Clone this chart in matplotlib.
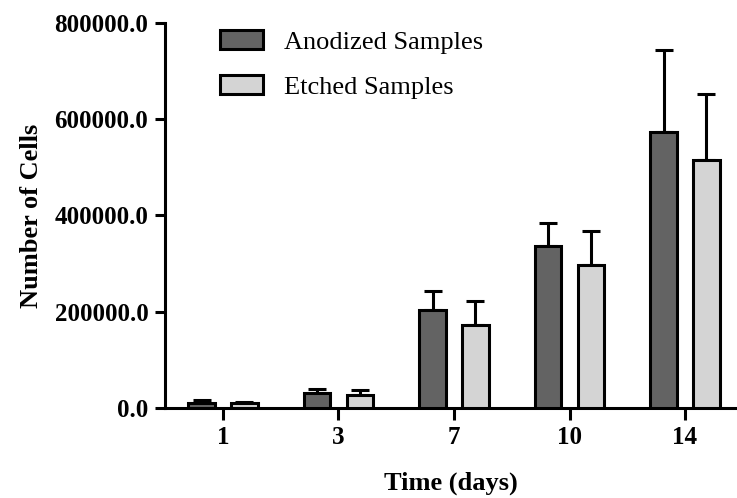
import numpy as np
import matplotlib
matplotlib.use('Agg')
import matplotlib.pyplot as plt

# Cell counts
days = ['1', '3', '7', '10', '14']
anodized = [11000, 31000, 203000, 336000, 573000]
anodized_err = [5000, 8000, 40000, 49000, 171000]
etched = [10000, 28000, 173000, 297000, 515000]
etched_err = [1500, 8500, 49000, 71000, 137000]

plt.rcParams['font.family'] = ['Liberation Serif', 'DejaVu Serif']

fig = plt.figure(figsize=(7.37, 4.98), dpi=100)
ax = fig.add_axes([165/737, 90/498, 572/737, 385/498])

x = np.arange(len(days))
w = 0.23
off = 0.185
err_kw = dict(ecolor='black', elinewidth=2.2, capsize=6.5, capthick=2.2)

ax.bar(x - off, anodized, w, color='#636363', edgecolor='black', linewidth=2.2,
       label='Anodized Samples', zorder=3)
ax.errorbar(x - off, anodized, yerr=[np.zeros(len(days)), anodized_err],
            fmt='none', zorder=2, **err_kw)
ax.bar(x + off, etched, w, color='#d4d4d4', edgecolor='black', linewidth=2.2,
       label='Etched Samples', zorder=3)
ax.errorbar(x + off, etched, yerr=[np.zeros(len(days)), etched_err],
            fmt='none', zorder=2, **err_kw)

ax.set_xlim(-0.502, 4.45)
ax.set_ylim(0, 800000)
ax.set_xticks(x)
ax.set_xticklabels(days)
ax.set_yticks([0, 200000, 400000, 600000, 800000])
ax.set_yticklabels(['0.0', '200000.0', '400000.0', '600000.0', '800000.0'])

for lab in ax.get_xticklabels() + ax.get_yticklabels():
    lab.set_fontweight('bold')
    lab.set_fontsize(18)

ax.tick_params(axis='y', length=7.5, width=2.2, pad=4.5)
ax.tick_params(axis='x', length=8.5, width=2.2, pad=4.5)

for s in ['top', 'right']:
    ax.spines[s].set_visible(False)
for s in ['left', 'bottom']:
    ax.spines[s].set_linewidth(2.2)

ax.set_ylabel('Number of Cells', fontsize=19, fontweight='bold', labelpad=8)
ax.set_xlabel('Time (days)', fontsize=19, fontweight='bold', labelpad=16)

leg = ax.legend(loc='upper left', bbox_to_anchor=(0.096, 0.982), frameon=False,
                fontsize=19, handlelength=1.63, handleheight=0.72,
                handletextpad=0.8, labelspacing=0.82, borderpad=0,
                borderaxespad=0)

fig.savefig('out.png', dpi=100)
